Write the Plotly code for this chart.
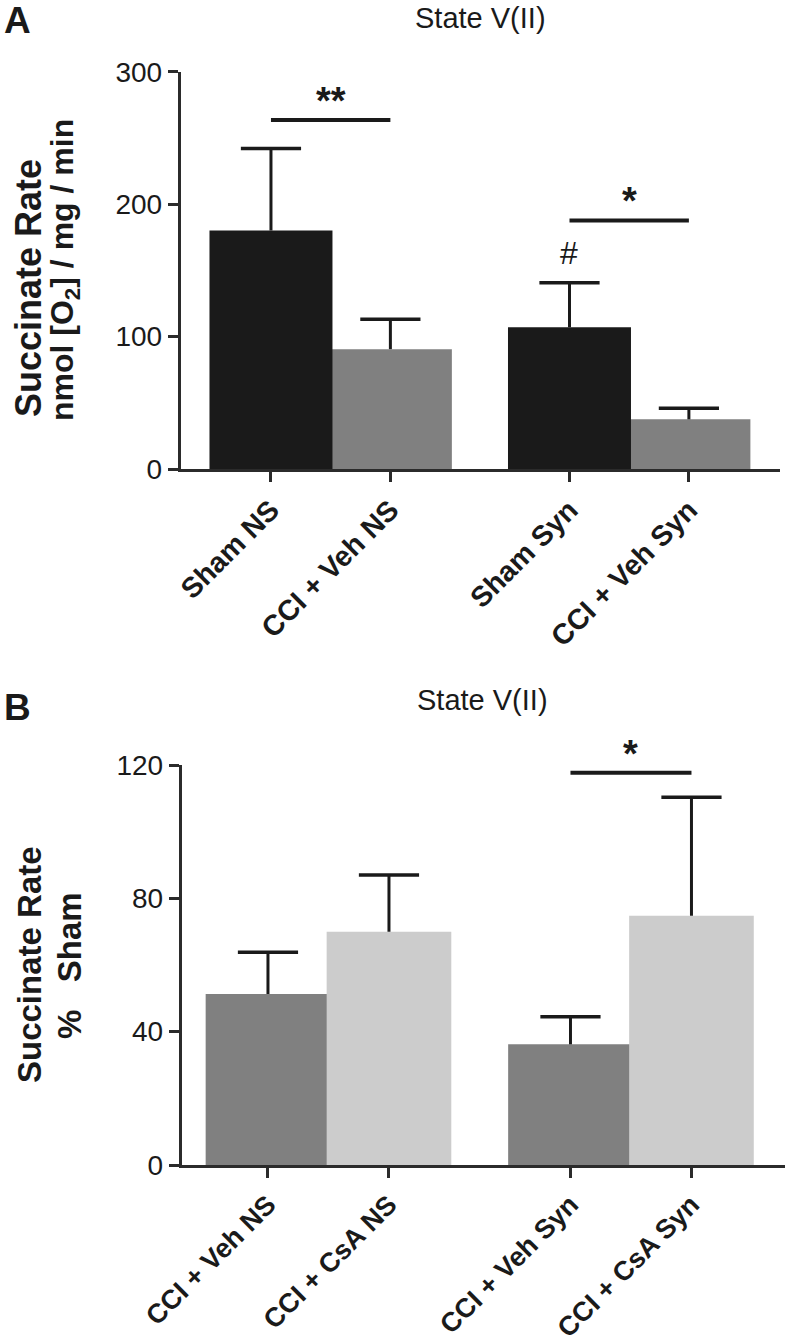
import plotly.graph_objects as go

# ---------------- data ----------------
a_labels = ["Sham NS", "CCI + Veh NS", "Sham Syn", "CCI + Veh Syn"]
a_means = [180, 90.5, 107, 37.5]
a_sem = [62, 22.6, 33.7, 8.3]
a_colors = ["#1a1a1a", "#808080", "#1a1a1a", "#808080"]
a_ticks = [0, 100, 200, 300]
a_sig = [("**", 0, 1, 263.5), ("*", 2, 3, 187.7)]
a_hash = [("#", 2)]

b_labels = ["CCI + Veh NS", "CCI + CsA NS", "CCI + Veh Syn", "CCI + CsA Syn"]
b_means = [51.3, 70, 36.2, 74.8]
b_sem = [12.5, 17, 8.3, 35.5]
b_colors = ["#808080", "#cccccc", "#808080", "#cccccc"]
b_ticks = [0, 40, 80, 120]
b_sig = [("*", 2, 3, 117.7)]

# ---------------- layout helpers ----------------
W, H = 792, 1343
FONT = "Arial, Liberation Sans, Helvetica, sans-serif"
INK = "#1a1a1a"
AX = "#2b2b2b"


def positions(n):
    # two groups of two bars, gap between groups
    return [(i // 2) * 2.5 + (i % 2) for i in range(n)]


fig = go.Figure()


def add_panel(xa, ya, means, sems, colors):
    xs = positions(len(means))
    # draw lighter bars first so darker ones sit on top where they touch
    uniq = list(dict.fromkeys(colors))
    uniq.sort(key=lambda c: c == "#1a1a1a")
    for col in uniq:
        idx = [i for i in range(len(means)) if colors[i] == col]
        fig.add_trace(go.Bar(
            x=[xs[i] for i in idx], y=[means[i] for i in idx],
            width=1.03, marker=dict(color=col, line=dict(width=0)),
            xaxis=xa, yaxis=ya, showlegend=False, hoverinfo="skip"))
    # error stems (upper only)
    sx, sy = [], []
    for x, m, s in zip(xs, means, sems):
        sx += [x, x, None]
        sy += [m, m + s, None]
    fig.add_trace(go.Scatter(x=sx, y=sy, mode="lines",
                             line=dict(color=INK, width=3),
                             xaxis=xa, yaxis=ya, showlegend=False, hoverinfo="skip"))
    # caps
    fig.add_trace(go.Scatter(x=xs, y=[m + s for m, s in zip(means, sems)], mode="markers",
                             marker=dict(symbol="line-ew", size=43,
                                         line=dict(color=INK, width=3.5)),
                             xaxis=xa, yaxis=ya, showlegend=False, hoverinfo="skip"))
    return xs


xa_pos = add_panel("x", "y", a_means, a_sem, a_colors)
xb_pos = add_panel("x2", "y2", b_means, b_sem, b_colors)


def add_sig(sigs, xs, xref, yref):
    for txt, i, j, yv in sigs:
        fig.add_shape(type="line", x0=xs[i], x1=xs[j], y0=yv, y1=yv,
                      xref=xref, yref=yref, line=dict(color=INK, width=4))
        fig.add_annotation(x=(xs[i] + xs[j]) / 2, y=yv, xref=xref, yref=yref,
                           text="<b>" + txt + "</b>", showarrow=False,
                           yanchor="bottom", yshift=-4,
                           font=dict(family=FONT, size=38, color=INK))


add_sig(a_sig, xa_pos, "x", "y")
add_sig(b_sig, xb_pos, "x2", "y2")
for txt, i in a_hash:
    fig.add_annotation(x=xa_pos[i], y=a_means[i] + a_sem[i], xref="x", yref="y",
                       text=txt, showarrow=False, yanchor="bottom", yshift=10,
                       font=dict(family=FONT, size=32, color=INK))

# domains (paper fractions)
xdomA = [180.7 / W, 780 / W]
xdomB = [181.7 / W, 785 / W]
ydomA = [1 - 469 / H, 1 - 71.7 / H]
ydomB = [1 - 1165 / H, 1 - 765 / H]

axis_common = dict(showgrid=False, zeroline=False, showline=True, linecolor=AX,
                   linewidth=3, ticks="outside", ticklen=10, tickwidth=3,
                   tickcolor=AX, automargin=False)

fig.update_layout(
    template="none",
    width=W, height=H, margin=dict(l=0, r=0, t=0, b=0, pad=0),
    paper_bgcolor="white", plot_bgcolor="white",
    font=dict(family=FONT, color=INK),
    barmode="overlay", showlegend=False,
    xaxis=dict(domain=xdomA, anchor="y", range=[-0.756, 4.263],
               tickvals=xa_pos, ticktext=["<b>" + t + "</b>" for t in a_labels],
               tickangle=-45, tickfont=dict(size=28.5, family=FONT, color=INK),
               **axis_common),
    yaxis=dict(domain=ydomA, anchor="x", range=[0, 300], tickvals=a_ticks,
               tickfont=dict(size=28, family=FONT, color=INK), **axis_common),
    xaxis2=dict(domain=xdomB, anchor="y2", range=[-0.713, 4.273],
                tickvals=xb_pos, ticktext=["<b>" + t + "</b>" for t in b_labels],
                tickangle=-45, tickfont=dict(size=27, family=FONT, color=INK),
                **axis_common),
    yaxis2=dict(domain=ydomB, anchor="x2", range=[0, 120], tickvals=b_ticks,
                tickfont=dict(size=28, family=FONT, color=INK), **axis_common),
)


def ptxt(x, y, text, size, bold=False, angle=0):
    fig.add_annotation(x=x / W, y=1 - y / H, xref="paper", yref="paper",
                       text=f"<b>{text}</b>" if bold else text, showarrow=False,
                       textangle=angle, xanchor="center", yanchor="middle",
                       font=dict(family=FONT, size=size, color=INK))


ptxt(480, 18, "State V(II)", 29)
ptxt(482, 700, "State V(II)", 29)
ptxt(17, 20, "A", 37, bold=True)
ptxt(17, 708, "B", 37, bold=True)
ptxt(28, 288, "Succinate Rate", 36, bold=True, angle=-90)
ptxt(65, 270, "nmol [O<sub>2</sub>] / mg / min", 32, bold=True, angle=-90)
ptxt(29, 965, "Succinate Rate", 33, bold=True, angle=-90)
ptxt(69, 966, "%\u00a0\u00a0\u00a0Sham", 33, bold=True, angle=-90)

fig.write_html("out.html",
               config={"displayModeBar": False, "staticPlot": True},
               post_script="document.body.style.margin='0px';"
                           "document.body.style.overflow='hidden';")
